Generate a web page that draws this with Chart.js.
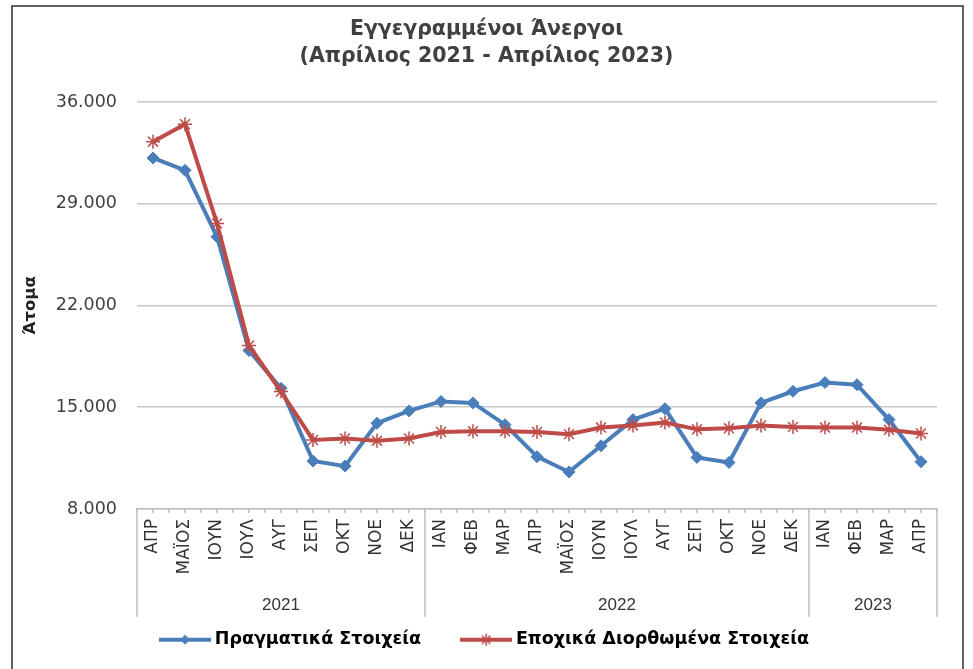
<!DOCTYPE html>
<html>
<head>
<meta charset="utf-8">
<script src="https://cdn.jsdelivr.net/npm/chart.js@4/dist/chart.umd.min.js"></script>
<style>
  html, body { margin: 0; padding: 0; background: #ffffff; }
  #c { display: block; }
</style>
</head>
<body>
<canvas id="c" width="973" height="669"></canvas>
<script>
// ---- data ----
const months = ['ΑΠΡ','ΜΑΪΟΣ','ΙΟΥΝ','ΙΟΥΛ','ΑΥΓ','ΣΕΠ','ΟΚΤ','ΝΟΕ','ΔΕΚ',
                'ΙΑΝ','ΦΕΒ','ΜΑΡ','ΑΠΡ','ΜΑΪΟΣ','ΙΟΥΝ','ΙΟΥΛ','ΑΥΓ','ΣΕΠ','ΟΚΤ','ΝΟΕ','ΔΕΚ',
                'ΙΑΝ','ΦΕΒ','ΜΑΡ','ΑΠΡ'];
const yearLabels = ['2021', '2022', '2023'];
const yearSpans = [9, 12, 4];
const actual = [32150, 31300, 26730, 18900, 16300, 11300, 10950, 13900, 14750,
                15400, 15300, 13800, 11600, 10550, 12350, 14150, 14900, 11550, 11200, 15300, 16100,
                16700, 16550, 14150, 11250];
const seasonal = [33270, 34470, 27650, 19250, 16080, 12750, 12850, 12700, 12850,
                  13300, 13350, 13350, 13300, 13150, 13600, 13750, 13950, 13480, 13550, 13750, 13650,
                  13600, 13600, 13450, 13200];
const yMin = 8000, yMax = 36000, yStep = 7000;
const seriesNames = ['Πραγματικά Στοιχεία', 'Εποχικά Διορθωμένα Στοιχεία'];
const titleLines = ['Εγγεγραμμένοι Άνεργοι', '(Απρίλιος 2021 - Απρίλιος 2023)'];
const yTitle = 'Άτομα';

const BLUE = '#4A7EBB';
const RED = '#BE4B48';
const AXIS_GRAY = '#bfbfbf';

function fmt(v) { return String(v).replace(/\B(?=(\d{3})+(?!\d))/g, '.'); }

function legendIcon(color, kind) {
  const c = document.createElement('canvas');
  c.width = 52; c.height = 16;
  const g = c.getContext('2d');
  g.strokeStyle = color; g.fillStyle = color;
  g.lineWidth = 4; g.lineCap = 'butt';
  g.beginPath(); g.moveTo(0, 8); g.lineTo(52, 8); g.stroke();
  const cx = 26, cy = 8;
  if (kind === 'diamond') {
    g.beginPath(); g.moveTo(cx, cy - 5); g.lineTo(cx + 5, cy); g.lineTo(cx, cy + 5); g.lineTo(cx - 5, cy); g.closePath(); g.fill();
  } else {
    g.lineWidth = 1.5;
    const r = 6;
    g.beginPath();
    g.moveTo(cx - r, cy); g.lineTo(cx + r, cy);
    g.moveTo(cx, cy - r); g.lineTo(cx, cy + r);
    const d = r * Math.SQRT1_2;
    g.moveTo(cx - d, cy - d); g.lineTo(cx + d, cy + d);
    g.moveTo(cx - d, cy + d); g.lineTo(cx + d, cy - d);
    g.stroke();
  }
  return c;
}
const icons = [legendIcon(BLUE, 'diamond'), legendIcon(RED, 'star')];

const frameAndYears = {
  id: 'frameAndYears',
  beforeDraw(chart) {
    const ctx = chart.ctx;
    ctx.save();
    ctx.fillStyle = '#ffffff';
    ctx.fillRect(0, 0, chart.width, chart.height);
    ctx.strokeStyle = '#3a3a3a';
    ctx.lineWidth = 1.6;
    ctx.strokeRect(12, 6, 951, 700);
    ctx.restore();
  },
  afterDraw(chart) {
    const x = chart.scales.x;
    const area = chart.chartArea;
    const ctx = chart.ctx;
    const top = area.bottom;
    const bottom = area.bottom + 108;
    ctx.save();
    ctx.strokeStyle = AXIS_GRAY;
    ctx.lineWidth = 1.5;
    // boundary tick marks
    for (let i = 0; i <= months.length; i++) {
      const px = x.getPixelForValue(i - 0.5);
      ctx.beginPath(); ctx.moveTo(px, top); ctx.lineTo(px, top + 4); ctx.stroke();
    }
    // group separators and year labels
    let start = 0;
    const bounds = [0];
    yearSpans.forEach(s => { start += s; bounds.push(start); });
    bounds.forEach(b => {
      const px = x.getPixelForValue(b - 0.5);
      ctx.beginPath(); ctx.moveTo(px, top); ctx.lineTo(px, bottom); ctx.stroke();
    });
    ctx.fillStyle = '#333333';
    ctx.font = '17px "Liberation Sans", Arial, sans-serif';
    ctx.textAlign = 'center';
    ctx.textBaseline = 'middle';
    yearLabels.forEach((lab, i) => {
      const a = x.getPixelForValue(bounds[i] - 0.5);
      const b = x.getPixelForValue(bounds[i + 1] - 0.5);
      ctx.fillText(lab, (a + b) / 2, top + 96);
    });
    ctx.restore();
  }
};

new Chart(document.getElementById('c'), {
  type: 'line',
  data: {
    labels: months,
    datasets: [
      {
        label: seriesNames[0],
        data: actual,
        order: 2,
        borderColor: BLUE,
        backgroundColor: BLUE,
        borderWidth: 4,
        tension: 0,
        pointStyle: 'rectRot',
        pointRadius: 6,
        pointBackgroundColor: BLUE,
        pointBorderColor: BLUE,
        pointBorderWidth: 1,
        yAxisID: 'y'
      },
      {
        label: seriesNames[1],
        data: seasonal,
        order: 1,
        borderColor: RED,
        backgroundColor: RED,
        borderWidth: 4,
        tension: 0,
        pointStyle: 'star',
        pointRadius: 7,
        pointBorderColor: RED,
        pointBackgroundColor: RED,
        pointBorderWidth: 1.5,
        yAxisID: 'y'
      }
    ]
  },
  options: {
    responsive: false,
    animation: false,
    devicePixelRatio: 1,
    layout: { padding: { left: 0, right: 0, top: 0, bottom: 10.5 } },
    plugins: {
      tooltip: { enabled: false },
      title: {
        display: true,
        text: titleLines,
        color: '#404040',
        font: { family: '"DejaVu Sans", Verdana, sans-serif', size: 20.5, weight: 'bold', lineHeight: 1.32 },
        padding: { top: 16.5, bottom: 31.4 }
      },
      legend: {
        position: 'bottom',
        labels: {
          usePointStyle: true,
          pointStyleWidth: 42,
          padding: 44,
          color: '#000000',
          font: { family: '"DejaVu Sans", Verdana, sans-serif', size: 17.5, weight: 'bold' },
          generateLabels: (chart) => [0, 1].map(i => ({
            text: seriesNames[i],
            datasetIndex: i,
            pointStyle: icons[i],
            fillStyle: i === 0 ? BLUE : RED,
            strokeStyle: i === 0 ? BLUE : RED,
            lineWidth: 0,
            hidden: false,
            fontColor: '#000000'
          }))
        }
      }
    },
    scales: {
      x: {
        type: 'category',
        offset: true,
        grid: { display: true, drawOnChartArea: false, drawTicks: true, tickLength: 4, offset: false, color: AXIS_GRAY, lineWidth: 1.5 },
        border: { display: true, color: AXIS_GRAY, width: 1.5 },
        ticks: {
          autoSkip: false,
          minRotation: 90,
          maxRotation: 90,
          padding: 6,
          color: '#333333',
          font: { family: '"DejaVu Sans", Verdana, sans-serif', size: 17 }
        },
        afterFit: (s) => { s.height = 78; }
      },
      y: {
        type: 'linear',
        position: 'left',
        min: yMin,
        max: yMax,
        grid: { color: '#c8c8c8', lineWidth: 1.6, drawTicks: false },
        border: { display: false },
        ticks: {
          stepSize: yStep,
          padding: 20,
          color: '#404040',
          font: { family: '"DejaVu Sans", Verdana, sans-serif', size: 17.5 },
          callback: (v) => fmt(v)
        },
        title: {
          display: true,
          text: yTitle,
          color: '#222222',
          font: { family: '"DejaVu Sans", Verdana, sans-serif', size: 16.5, weight: 'bold' },
          padding: { top: 21, bottom: 0 }
        },
        afterFit: (s) => { s.width = 137; }
      },
      y2: {
        type: 'linear',
        position: 'right',
        display: true,
        grid: { display: false, drawTicks: false },
        border: { display: false },
        ticks: { display: false },
        afterFit: (s) => { s.width = 36; }
      }
    }
  },
  plugins: [frameAndYears]
});
</script>
</body>
</html>
